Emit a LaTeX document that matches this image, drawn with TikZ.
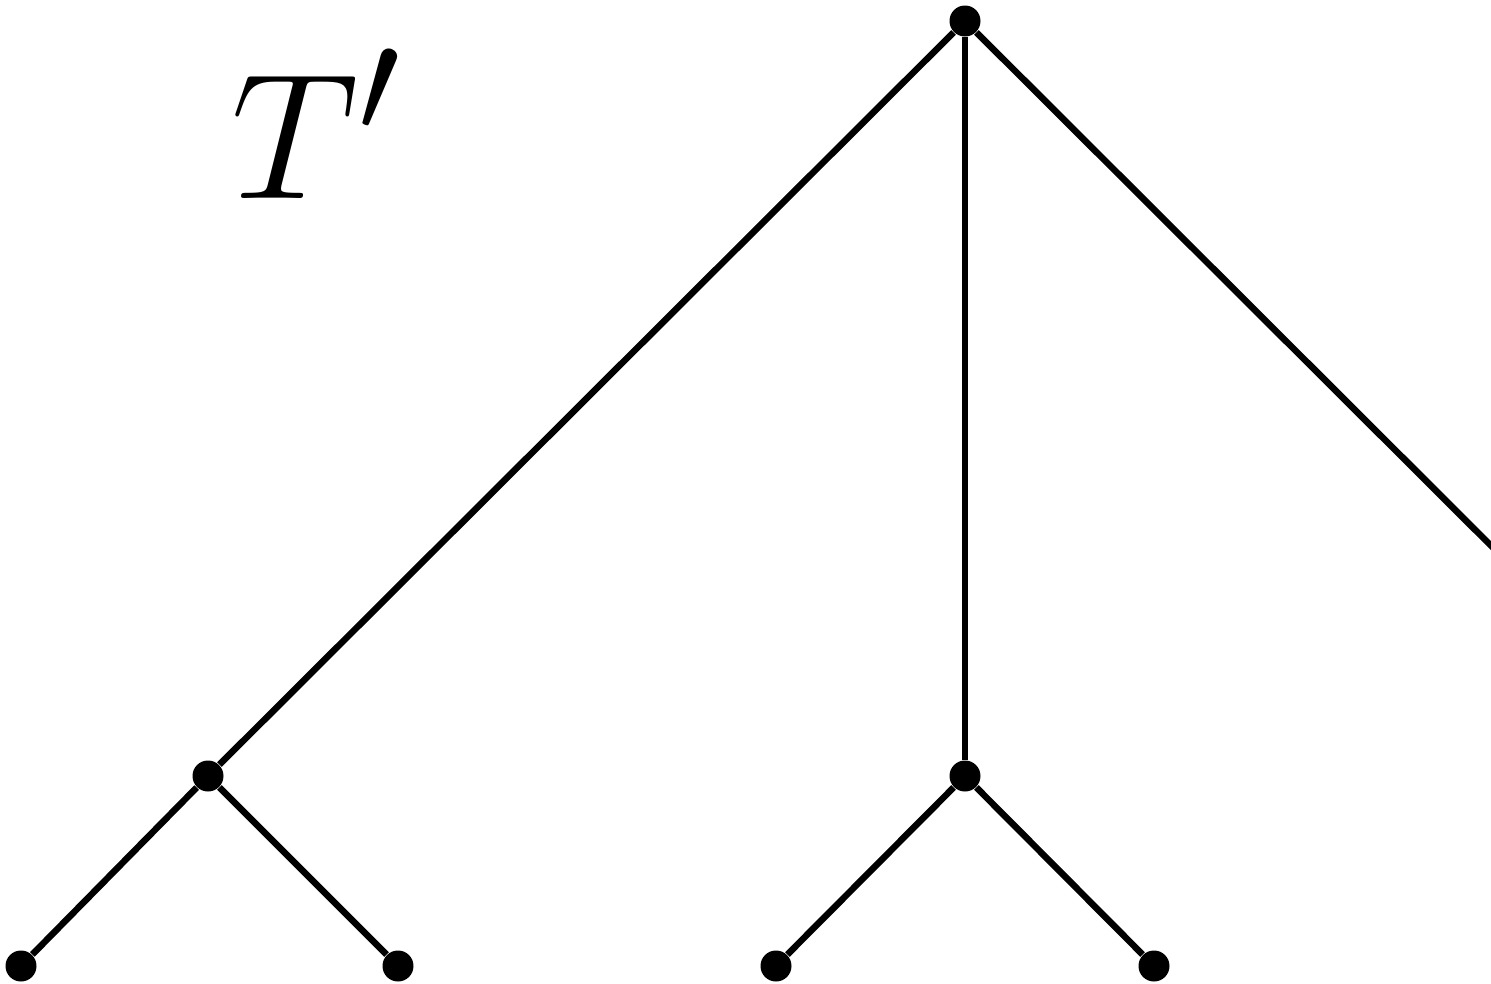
\documentclass[tikz,border=0pt]{standalone}
\usetikzlibrary{positioning}

\begin{document}
\begin{tikzpicture}[
  vtx/.style={circle, fill=black, inner sep=0pt, minimum size=0.31cm},
  edge/.style={line width=1.85pt}
]
  %% Frame
  \useasboundingbox (0,0) rectangle (14.91,-9.84);
  \clip (0,0) rectangle (14.91,-9.84);

  %% Vertices
  \node[vtx] (root) at (9.65,-0.21) {};
  \node[vtx] (a)    at (2.08,-7.76) {};
  \node[vtx] (b)    at (9.65,-7.76) {};
  \coordinate (c)   at (17.22,-7.76);
  \node[vtx] (a1)   at (0.21,-9.66) {};
  \node[vtx] (a2)   at (3.98,-9.66) {};
  \node[vtx] (b1)   at (7.76,-9.66) {};
  \node[vtx] (b2)   at (11.54,-9.66) {};

  %% Edges
  \draw[edge] (root) -- (a);
  \draw[edge] (root) -- (b);
  \draw[edge] (root) -- (c);
  \draw[edge] (a) -- (a1);
  \draw[edge] (a) -- (a2);
  \draw[edge] (b) -- (b1);
  \draw[edge] (b) -- (b2);

  %% Label
  \node[anchor=base west, inner sep=0pt, font=\Huge, scale=2.05] (lbl) at (2.30,-1.98) {$T'$};
\end{tikzpicture}
\end{document}
